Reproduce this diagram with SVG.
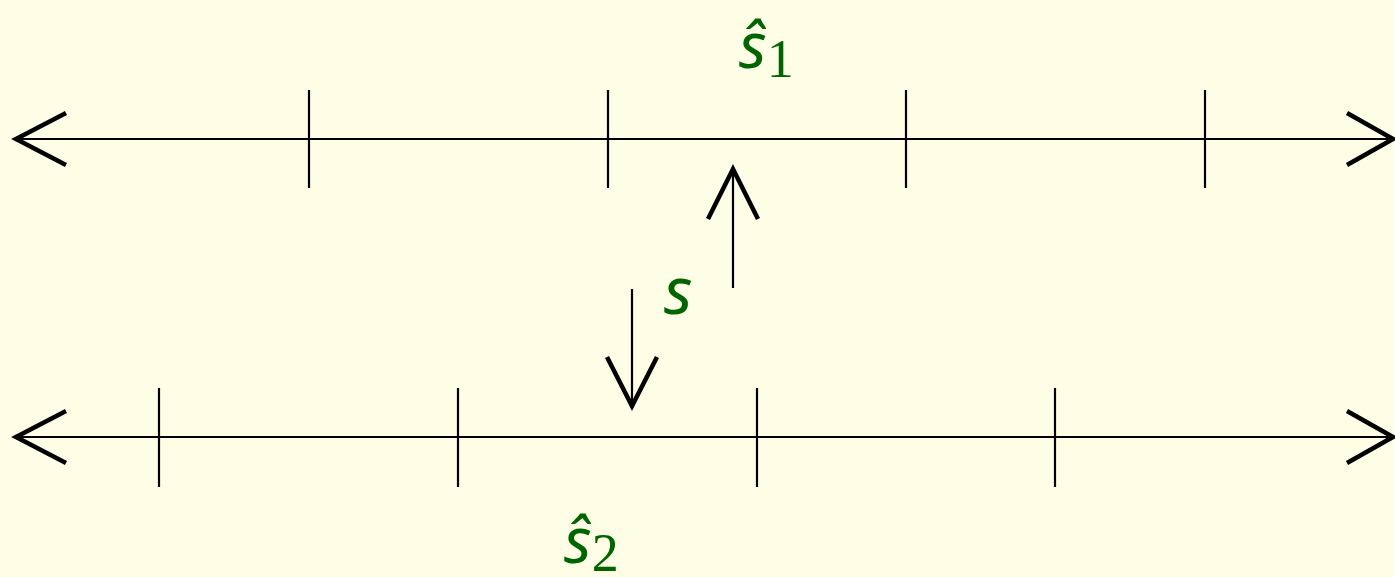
<svg xmlns="http://www.w3.org/2000/svg" width="1395" height="577" viewBox="0 0 1395 577">
<style>
.ln{stroke:#000;stroke-width:2.2;fill:none}
.ah{stroke:#000;stroke-width:4.5;fill:none;stroke-linecap:butt;stroke-linejoin:miter}
.lbl{font-family:"Noto Sans","Open Sans",sans-serif;font-style:italic;fill:#006400}
.sub{font-family:"Liberation Serif",serif;font-style:normal;fill:#006400}
</style>
<rect width="1395" height="577" fill="#FEFEE6"/>
<g id="connectors">
<g id="line1">
<line class="ln" x1="16" y1="139" x2="1393" y2="139"/>
<polyline class="ah" points="66,113 16,139 66,165"/>
<polyline class="ah" points="1347,113 1393,139 1347,165"/>
<line class="ln" x1="309" y1="90" x2="309" y2="188"/>
<line class="ln" x1="608" y1="90" x2="608" y2="188"/>
<line class="ln" x1="906" y1="90" x2="906" y2="188"/>
<line class="ln" x1="1205" y1="90" x2="1205" y2="188"/>
</g>
<g id="line2">
<line class="ln" x1="16" y1="437" x2="1393" y2="437"/>
<polyline class="ah" points="66,411 16,437 66,463"/>
<polyline class="ah" points="1347,411 1393,437 1347,463"/>
<line class="ln" x1="159" y1="388" x2="159" y2="487"/>
<line class="ln" x1="458" y1="388" x2="458" y2="487"/>
<line class="ln" x1="757" y1="388" x2="757" y2="487"/>
<line class="ln" x1="1055" y1="388" x2="1055" y2="487"/>
</g>
<g id="up-arrow">
<line class="ln" x1="733" y1="288" x2="733" y2="168"/>
<polyline class="ah" points="708,219 733,169 758,219"/>
</g>
<g id="down-arrow">
<line class="ln" x1="632" y1="289" x2="632" y2="407"/>
<polyline class="ah" points="607,357 632,406 657,357"/>
</g>
</g>
<g id="s-hat-1"><text class="lbl" x="739" y="68" font-size="64">ŝ<tspan class="sub" font-size="54" dy="9">1</tspan></text></g>
<g id="s-hat-2"><text class="lbl" x="564" y="563" font-size="64">ŝ<tspan class="sub" font-size="54" dy="8">2</tspan></text></g>
<g id="s-label"><text class="lbl" x="664" y="314" font-size="66">s</text></g>
</svg>
